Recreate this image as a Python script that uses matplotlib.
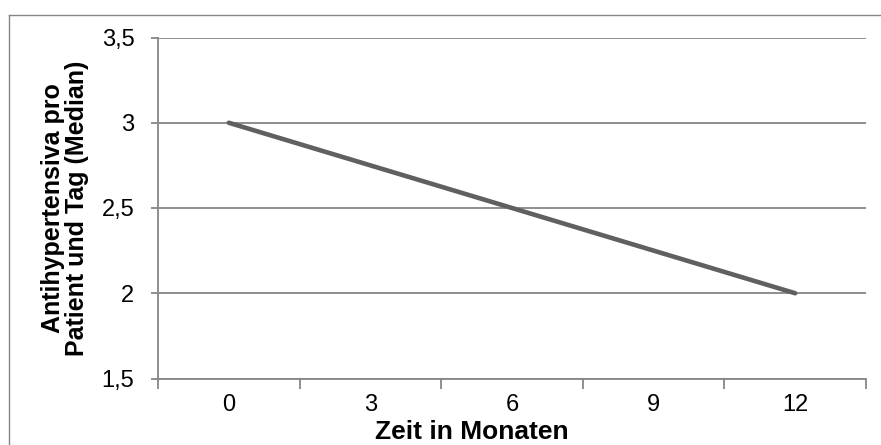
import matplotlib
matplotlib.use('Agg')
import matplotlib.pyplot as plt
from matplotlib.lines import Line2D

plt.rcParams['font.family'] = ['Liberation Sans', 'DejaVu Sans']

# data
monate = ['0', '3', '6', '9', '12']
median_werte = [3.0, 2.75, 2.5, 2.25, 2.0]
y_ticks = [1.5, 2.0, 2.5, 3.0, 3.5]
y_tick_labels = ['1,5', '2', '2,5', '3', '3,5']

GRAU = '#868686'

fig = plt.figure(figsize=(8.81, 4.45), dpi=100)
ax = fig.add_axes([158/881, 1 - 378.5/445, 708/881, 341/445])

# chart border (Excel style frame)
fig.add_artist(Line2D([9/881, 9/881], [0, 1 - 15/445], color=GRAU, lw=1.0, transform=fig.transFigure))
fig.add_artist(Line2D([9/881, 1], [1 - 15/445, 1 - 15/445], color=GRAU, lw=1.0, transform=fig.transFigure))

x = list(range(len(monate)))
ax.plot(x, median_werte, color='#606060', lw=3.3, solid_capstyle='round', zorder=3)

ax.set_xlim(-0.5, len(monate) - 0.5)
ax.set_ylim(y_ticks[0], y_ticks[-1])

ax.set_yticks(y_ticks)
ax.set_yticklabels(y_tick_labels)
ax.set_xticks(x)
ax.set_xticklabels(monate)
ax.set_xticks([i - 0.5 for i in range(len(monate) + 1)], minor=True)

ax.grid(axis='y', color=GRAU, lw=1.3)
ax.set_axisbelow(True)
for s in ['top', 'right']:
    ax.spines[s].set_visible(False)
for s in ['left', 'bottom']:
    ax.spines[s].set_color(GRAU)
    ax.spines[s].set_linewidth(1.3)

ax.tick_params(axis='y', length=5, width=1.3, color=GRAU, pad=12, labelsize=17)
ax.tick_params(axis='x', which='major', length=0, pad=11, labelsize=17)
ax.tick_params(axis='x', which='minor', length=7, width=1.3, color=GRAU)

fig.text(472/881, 1 - 439/445, 'Zeit in Monaten', ha='center', va='baseline',
         fontsize=19, fontweight='bold')
fig.text(65/881, 1 - 208/445, 'Antihypertensiva pro\nPatient und Tag (Median)',
         rotation=90, ha='center', va='center', multialignment='center',
         fontsize=18, fontweight='bold', linespacing=0.95)

fig.savefig('out.png', dpi=100)
